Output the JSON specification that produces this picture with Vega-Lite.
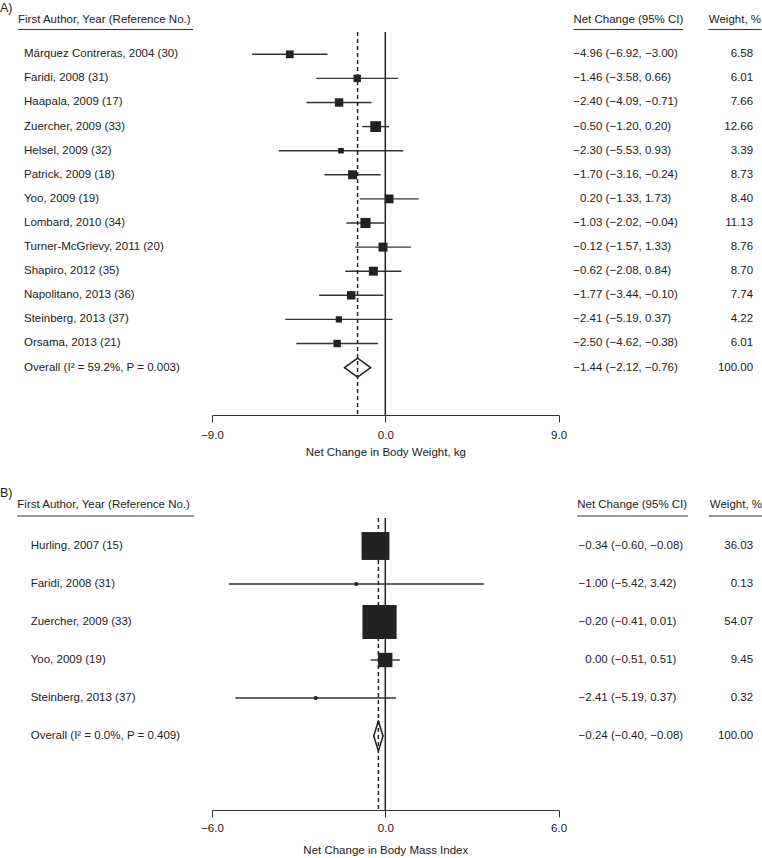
{
  "$schema": "https://vega.github.io/schema/vega-lite/v6.json",
  "padding": 0,
  "background": "white",
  "config": {
    "view": {"stroke": null},
    "font": "Liberation Sans",
    "text": {"font": "Liberation Sans", "fontSize": 11.5, "color": "#222", "baseline": "middle"},
    "axis": {"labelFont": "Liberation Sans", "titleFont": "Liberation Sans", "labelFontSize": 11.5, "titleFontSize": 11.5, "titleFontWeight": "normal", "labelColor": "#222", "titleColor": "#222", "domainColor": "#333", "tickColor": "#333", "grid": false}
  },
  "datasets": {
    "A": [
      {"row": 1, "type": "study", "label": "Márquez Contreras, 2004 (30)", "est": -4.96, "lo": -6.92, "hi": -3.00, "ci": "(−6.92, −3.00)", "w": 6.58},
      {"row": 2, "type": "study", "label": "Faridi, 2008 (31)", "est": -1.46, "lo": -3.58, "hi": 0.66, "ci": "(−3.58, 0.66)", "w": 6.01},
      {"row": 3, "type": "study", "label": "Haapala, 2009 (17)", "est": -2.40, "lo": -4.09, "hi": -0.71, "ci": "(−4.09, −0.71)", "w": 7.66},
      {"row": 4, "type": "study", "label": "Zuercher, 2009 (33)", "est": -0.50, "lo": -1.20, "hi": 0.20, "ci": "(−1.20, 0.20)", "w": 12.66},
      {"row": 5, "type": "study", "label": "Helsel, 2009 (32)", "est": -2.30, "lo": -5.53, "hi": 0.93, "ci": "(−5.53, 0.93)", "w": 3.39},
      {"row": 6, "type": "study", "label": "Patrick, 2009 (18)", "est": -1.70, "lo": -3.16, "hi": -0.24, "ci": "(−3.16, −0.24)", "w": 8.73},
      {"row": 7, "type": "study", "label": "Yoo, 2009 (19)", "est": 0.20, "lo": -1.33, "hi": 1.73, "ci": "(−1.33, 1.73)", "w": 8.40},
      {"row": 8, "type": "study", "label": "Lombard, 2010 (34)", "est": -1.03, "lo": -2.02, "hi": -0.04, "ci": "(−2.02, −0.04)", "w": 11.13},
      {"row": 9, "type": "study", "label": "Turner-McGrievy, 2011 (20)", "est": -0.12, "lo": -1.57, "hi": 1.33, "ci": "(−1.57, 1.33)", "w": 8.76},
      {"row": 10, "type": "study", "label": "Shapiro, 2012 (35)", "est": -0.62, "lo": -2.08, "hi": 0.84, "ci": "(−2.08, 0.84)", "w": 8.70},
      {"row": 11, "type": "study", "label": "Napolitano, 2013 (36)", "est": -1.77, "lo": -3.44, "hi": -0.10, "ci": "(−3.44, −0.10)", "w": 7.74},
      {"row": 12, "type": "study", "label": "Steinberg, 2013 (37)", "est": -2.41, "lo": -5.19, "hi": 0.37, "ci": "(−5.19, 0.37)", "w": 4.22},
      {"row": 13, "type": "study", "label": "Orsama, 2013 (21)", "est": -2.50, "lo": -4.62, "hi": -0.38, "ci": "(−4.62, −0.38)", "w": 6.01},
      {"row": 14, "type": "overall", "label": "Overall (I² = 59.2%, P = 0.003)", "est": -1.44, "lo": -2.12, "hi": -0.76, "ci": "(−2.12, −0.76)", "w": 100.00}
    ],
    "B": [
      {"row": 1, "type": "study", "label": "Hurling, 2007 (15)", "est": -0.34, "lo": -0.60, "hi": -0.08, "ci": "(−0.60, −0.08)", "w": 36.03},
      {"row": 2, "type": "study", "label": "Faridi, 2008 (31)", "est": -1.00, "lo": -5.42, "hi": 3.42, "ci": "(−5.42, 3.42)", "w": 0.13},
      {"row": 3, "type": "study", "label": "Zuercher, 2009 (33)", "est": -0.20, "lo": -0.41, "hi": 0.01, "ci": "(−0.41, 0.01)", "w": 54.07},
      {"row": 4, "type": "study", "label": "Yoo, 2009 (19)", "est": 0.00, "lo": -0.51, "hi": 0.51, "ci": "(−0.51, 0.51)", "w": 9.45},
      {"row": 5, "type": "study", "label": "Steinberg, 2013 (37)", "est": -2.41, "lo": -5.19, "hi": 0.37, "ci": "(−5.19, 0.37)", "w": 0.32},
      {"row": 6, "type": "overall", "label": "Overall (I² = 0.0%, P = 0.409)", "est": -0.24, "lo": -0.40, "hi": -0.08, "ci": "(−0.40, −0.08)", "w": 100.00}
    ]
  },
  "columns": 3,
  "spacing": {"row": 40, "column": 0},
  "bounds": "flush",
  "align": "each",
  "resolve": {"scale": {"size": "independent"}},
  "concat": [
    {
      "width": 212, "height": 415,
      "layer": [
        {"data": {"name": "A"}, "mark": {"type": "text", "align": "left"},
         "encoding": {"x": {"value": 24}, "y": {"field": "row", "type": "quantitative", "scale": {"domain": [-1.253, 15.967], "reverse": true, "nice": false, "zero": false}, "axis": null}, "text": {"field": "label"}}},
        {"data": {"values": [{"t": "First Author, Year (Reference No.)"}]}, "mark": {"type": "text", "align": "left"},
         "encoding": {"x": {"value": 18}, "y": {"datum": -0.423, "type": "quantitative", "axis": null}, "text": {"field": "t"}}},
        {"data": {"values": [{}]}, "mark": {"type": "rule", "color": "#333", "strokeWidth": 1},
         "encoding": {"x": {"value": 18}, "x2": {"value": 193}, "y": {"datum": -0.029, "type": "quantitative", "axis": null}}},
        {"data": {"values": [{"t": "A)"}]}, "mark": {"type": "text", "align": "left", "fontSize": 12.5},
         "encoding": {"x": {"value": 0}, "y": {"datum": -0.921, "type": "quantitative", "axis": null}, "text": {"field": "t"}}}
      ]
    },
    {
      "width": 346.6, "height": 415,
      "layer": [
        {"data": {"name": "A"}, "transform": [{"filter": "datum.type === 'study'"}],
         "mark": {"type": "rule", "color": "#333", "strokeWidth": 1.4},
         "encoding": {
           "x": {"field": "lo", "type": "quantitative", "scale": {"domain": [-9, 9], "nice": false, "zero": false},
                 "axis": {"values": [-9, 0, 9], "format": ".1f", "title": "Net Change in Body Weight, kg", "tickSize": 7, "labelPadding": 7, "titlePadding": 6, "labelFlush": false}},
           "x2": {"field": "hi"},
           "y": {"field": "row", "type": "quantitative", "scale": {"domain": [-1.253, 15.967], "reverse": true, "nice": false, "zero": false}, "axis": null}}},
        {"data": {"values": [{}]}, "mark": {"type": "rule", "color": "#222", "strokeWidth": 1.5},
         "encoding": {"x": {"datum": 0, "type": "quantitative"}, "y": {"datum": 0.075, "type": "quantitative", "axis": null}, "y2": {"datum": 15.967}}},
        {"data": {"name": "A"}, "transform": [{"filter": "datum.type === 'overall'"}],
         "mark": {"type": "rule", "color": "#222", "strokeWidth": 1.5, "strokeDash": [4, 3]},
         "encoding": {"x": {"field": "est", "type": "quantitative"}, "y": {"datum": 0.075, "type": "quantitative", "axis": null}, "y2": {"datum": 15.967}}},
        {"data": {"name": "A"}, "transform": [{"filter": "datum.type === 'study'"}],
         "mark": {"type": "point", "shape": "square", "filled": true, "color": "#222", "opacity": 1},
         "encoding": {"x": {"field": "est", "type": "quantitative"}, "y": {"field": "row", "type": "quantitative", "axis": null},
                      "size": {"field": "w", "type": "quantitative", "scale": {"domain": [0, 100], "range": [0, 920], "zero": true}, "legend": null}}},
        {"data": {"name": "A"}, "transform": [{"filter": "datum.type === 'study'"}],
         "mark": {"type": "point", "shape": "circle", "filled": true, "color": "#222", "opacity": 1, "size": 16},
         "encoding": {"x": {"field": "est", "type": "quantitative"}, "y": {"field": "row", "type": "quantitative", "axis": null}}},
        {"data": {"name": "A"}, "transform": [{"filter": "datum.type === 'overall'"}],
         "mark": {"type": "rule", "color": "#222", "strokeWidth": 1.5, "strokeCap": "round", "y2Offset": -9.5},
         "encoding": {"x": {"field": "lo", "type": "quantitative"}, "x2": {"field": "est"}, "y": {"field": "row", "type": "quantitative", "axis": null}, "y2": {"field": "row"}}},
        {"data": {"name": "A"}, "transform": [{"filter": "datum.type === 'overall'"}],
         "mark": {"type": "rule", "color": "#222", "strokeWidth": 1.5, "strokeCap": "round", "y2Offset": 9.5},
         "encoding": {"x": {"field": "lo", "type": "quantitative"}, "x2": {"field": "est"}, "y": {"field": "row", "type": "quantitative", "axis": null}, "y2": {"field": "row"}}},
        {"data": {"name": "A"}, "transform": [{"filter": "datum.type === 'overall'"}],
         "mark": {"type": "rule", "color": "#222", "strokeWidth": 1.5, "strokeCap": "round", "yOffset": -9.5},
         "encoding": {"x": {"field": "est", "type": "quantitative"}, "x2": {"field": "hi"}, "y": {"field": "row", "type": "quantitative", "axis": null}, "y2": {"field": "row"}}},
        {"data": {"name": "A"}, "transform": [{"filter": "datum.type === 'overall'"}],
         "mark": {"type": "rule", "color": "#222", "strokeWidth": 1.5, "strokeCap": "round", "yOffset": 9.5},
         "encoding": {"x": {"field": "est", "type": "quantitative"}, "x2": {"field": "hi"}, "y": {"field": "row", "type": "quantitative", "axis": null}, "y2": {"field": "row"}}}
      ]
    },
    {
      "width": 203.4, "height": 415,
      "layer": [
        {"data": {"name": "A"}, "mark": {"type": "text", "align": "right"},
         "encoding": {"x": {"value": 43.4}, "y": {"field": "row", "type": "quantitative", "scale": {"domain": [-1.253, 15.967], "reverse": true, "nice": false, "zero": false}, "axis": null}, "text": {"field": "est", "type": "quantitative", "format": ".2f"}}},
        {"data": {"name": "A"}, "mark": {"type": "text", "align": "left", "dx": 3.2},
         "encoding": {"x": {"value": 43.4}, "y": {"field": "row", "type": "quantitative", "axis": null}, "text": {"field": "ci"}}},
        {"data": {"name": "A"}, "mark": {"type": "text", "align": "right"},
         "encoding": {"x": {"value": 194.1}, "y": {"field": "row", "type": "quantitative", "axis": null}, "text": {"field": "w", "type": "quantitative", "format": ".2f"}}},
        {"data": {"values": [{"t": "Net Change (95% CI)"}]}, "mark": {"type": "text", "align": "left"},
         "encoding": {"x": {"value": 14.4}, "y": {"datum": -0.423, "type": "quantitative", "axis": null}, "text": {"field": "t"}}},
        {"data": {"values": [{}]}, "mark": {"type": "rule", "color": "#333", "strokeWidth": 1},
         "encoding": {"x": {"value": 14.4}, "x2": {"value": 124}, "y": {"datum": -0.029, "type": "quantitative", "axis": null}}},
        {"data": {"values": [{"t": "Weight, %"}]}, "mark": {"type": "text", "align": "right"},
         "encoding": {"x": {"value": 202}, "y": {"datum": -0.423, "type": "quantitative", "axis": null}, "text": {"field": "t"}}},
        {"data": {"values": [{}]}, "mark": {"type": "rule", "color": "#333", "strokeWidth": 1},
         "encoding": {"x": {"value": 149.4}, "x2": {"value": 202.6}, "y": {"datum": -0.029, "type": "quantitative", "axis": null}}}
      ]
    },
    {
      "width": 212, "height": 355,
      "layer": [
        {"data": {"name": "B"}, "mark": {"type": "text", "align": "left"},
         "encoding": {"x": {"value": 30.7}, "y": {"field": "row", "type": "quantitative", "scale": {"domain": [-1.395, 7.947], "reverse": true, "nice": false, "zero": false}, "axis": null}, "text": {"field": "label"}}},
        {"data": {"values": [{"t": "First Author, Year (Reference No.)"}]}, "mark": {"type": "text", "align": "left"},
         "encoding": {"x": {"value": 17.3}, "y": {"datum": -0.079, "type": "quantitative", "axis": null}, "text": {"field": "t"}}},
        {"data": {"values": [{}]}, "mark": {"type": "rule", "color": "#333", "strokeWidth": 1},
         "encoding": {"x": {"value": 17.3}, "x2": {"value": 194}, "y": {"datum": 0.211, "type": "quantitative", "axis": null}}},
        {"data": {"values": [{"t": "B)"}]}, "mark": {"type": "text", "align": "left", "fontSize": 12.5},
         "encoding": {"x": {"value": 0}, "y": {"datum": -0.395, "type": "quantitative", "axis": null}, "text": {"field": "t"}}}
      ]
    },
    {
      "width": 346.6, "height": 355,
      "layer": [
        {"data": {"name": "B"}, "transform": [{"filter": "datum.type === 'study'"}],
         "mark": {"type": "rule", "color": "#333", "strokeWidth": 1.4},
         "encoding": {
           "x": {"field": "lo", "type": "quantitative", "scale": {"domain": [-6, 6], "nice": false, "zero": false},
                 "axis": {"values": [-6, 0, 6], "format": ".1f", "title": "Net Change in Body Mass Index", "tickSize": 7, "labelPadding": 5, "titlePadding": 11, "labelFlush": false}},
           "x2": {"field": "hi"},
           "y": {"field": "row", "type": "quantitative", "scale": {"domain": [-1.395, 7.947], "reverse": true, "nice": false, "zero": false}, "axis": null}}},
        {"data": {"values": [{}]}, "mark": {"type": "rule", "color": "#222", "strokeWidth": 1.5},
         "encoding": {"x": {"datum": 0, "type": "quantitative"}, "y": {"datum": 0.263, "type": "quantitative", "axis": null}, "y2": {"datum": 7.947}}},
        {"data": {"name": "B"}, "transform": [{"filter": "datum.type === 'overall'"}],
         "mark": {"type": "rule", "color": "#222", "strokeWidth": 1.5, "strokeDash": [4, 3]},
         "encoding": {"x": {"field": "est", "type": "quantitative"}, "y": {"datum": 0.263, "type": "quantitative", "axis": null}, "y2": {"datum": 7.947}}},
        {"data": {"name": "B"}, "transform": [{"filter": "datum.type === 'study'"}],
         "mark": {"type": "point", "shape": "square", "filled": true, "color": "#222", "opacity": 1},
         "encoding": {"x": {"field": "est", "type": "quantitative"}, "y": {"field": "row", "type": "quantitative", "axis": null},
                      "size": {"field": "w", "type": "quantitative", "scale": {"domain": [0, 100], "range": [0, 2160], "zero": true}, "legend": null}}},
        {"data": {"name": "B"}, "transform": [{"filter": "datum.type === 'study'"}],
         "mark": {"type": "point", "shape": "circle", "filled": true, "color": "#222", "opacity": 1, "size": 16},
         "encoding": {"x": {"field": "est", "type": "quantitative"}, "y": {"field": "row", "type": "quantitative", "axis": null}}},
        {"data": {"name": "B"}, "transform": [{"filter": "datum.type === 'overall'"}],
         "mark": {"type": "rule", "color": "#222", "strokeWidth": 1.5, "strokeCap": "round", "y2Offset": -15},
         "encoding": {"x": {"field": "lo", "type": "quantitative"}, "x2": {"field": "est"}, "y": {"field": "row", "type": "quantitative", "axis": null}, "y2": {"field": "row"}}},
        {"data": {"name": "B"}, "transform": [{"filter": "datum.type === 'overall'"}],
         "mark": {"type": "rule", "color": "#222", "strokeWidth": 1.5, "strokeCap": "round", "y2Offset": 15},
         "encoding": {"x": {"field": "lo", "type": "quantitative"}, "x2": {"field": "est"}, "y": {"field": "row", "type": "quantitative", "axis": null}, "y2": {"field": "row"}}},
        {"data": {"name": "B"}, "transform": [{"filter": "datum.type === 'overall'"}],
         "mark": {"type": "rule", "color": "#222", "strokeWidth": 1.5, "strokeCap": "round", "yOffset": -15},
         "encoding": {"x": {"field": "est", "type": "quantitative"}, "x2": {"field": "hi"}, "y": {"field": "row", "type": "quantitative", "axis": null}, "y2": {"field": "row"}}},
        {"data": {"name": "B"}, "transform": [{"filter": "datum.type === 'overall'"}],
         "mark": {"type": "rule", "color": "#222", "strokeWidth": 1.5, "strokeCap": "round", "yOffset": 15},
         "encoding": {"x": {"field": "est", "type": "quantitative"}, "x2": {"field": "hi"}, "y": {"field": "row", "type": "quantitative", "axis": null}, "y2": {"field": "row"}}}
      ]
    },
    {
      "width": 203.4, "height": 355,
      "layer": [
        {"data": {"name": "B"}, "mark": {"type": "text", "align": "right"},
         "encoding": {"x": {"value": 48.7}, "y": {"field": "row", "type": "quantitative", "scale": {"domain": [-1.395, 7.947], "reverse": true, "nice": false, "zero": false}, "axis": null}, "text": {"field": "est", "type": "quantitative", "format": ".2f"}}},
        {"data": {"name": "B"}, "mark": {"type": "text", "align": "left", "dx": 3.2},
         "encoding": {"x": {"value": 48.7}, "y": {"field": "row", "type": "quantitative", "axis": null}, "text": {"field": "ci"}}},
        {"data": {"name": "B"}, "mark": {"type": "text", "align": "right"},
         "encoding": {"x": {"value": 194.1}, "y": {"field": "row", "type": "quantitative", "axis": null}, "text": {"field": "w", "type": "quantitative", "format": ".2f"}}},
        {"data": {"values": [{"t": "Net Change (95% CI)"}]}, "mark": {"type": "text", "align": "left"},
         "encoding": {"x": {"value": 18.2}, "y": {"datum": -0.079, "type": "quantitative", "axis": null}, "text": {"field": "t"}}},
        {"data": {"values": [{}]}, "mark": {"type": "rule", "color": "#333", "strokeWidth": 1},
         "encoding": {"x": {"value": 18.2}, "x2": {"value": 129}, "y": {"datum": 0.211, "type": "quantitative", "axis": null}}},
        {"data": {"values": [{"t": "Weight, %"}]}, "mark": {"type": "text", "align": "right"},
         "encoding": {"x": {"value": 203}, "y": {"datum": -0.079, "type": "quantitative", "axis": null}, "text": {"field": "t"}}},
        {"data": {"values": [{}]}, "mark": {"type": "rule", "color": "#333", "strokeWidth": 1},
         "encoding": {"x": {"value": 149.7}, "x2": {"value": 203}, "y": {"datum": 0.211, "type": "quantitative", "axis": null}}}
      ]
    }
  ]
}
